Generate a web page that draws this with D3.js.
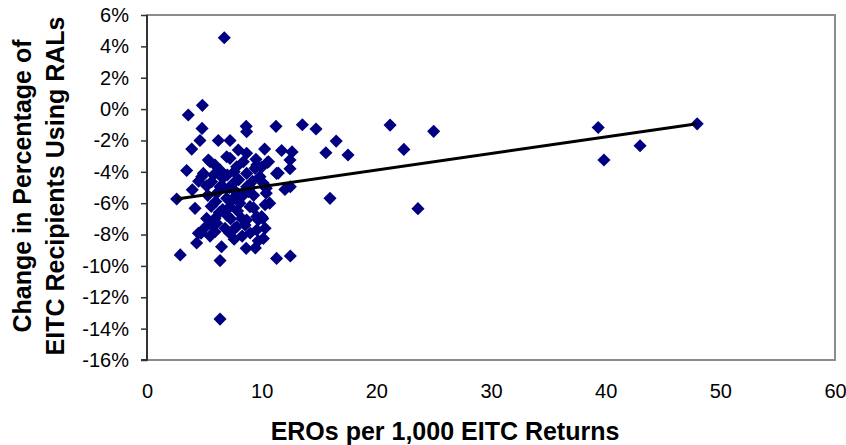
<!DOCTYPE html>
<html>
<head>
<meta charset="utf-8">
<script src="https://cdn.jsdelivr.net/npm/d3@7"></script>
<style>
  html, body { margin: 0; padding: 0; background: #fff; }
  svg { display: block; font-family: "Liberation Sans", Arial, sans-serif; }
</style>
</head>
<body>
<svg id="chart" width="846" height="445"></svg>
<script>
// ---- data (x: EROs per 1,000 EITC returns, y: change in % of EITC recipients using RALs) ----
const xValues = [
  6.74, 3.6, 4.83, 4.8, 8.65, 8.69, 11.25, 13.55, 14.74, 16.5, 15.6, 17.53, 21.2, 25.0, 22.4, 15.96, 23.63, 39.35, 39.85, 43.0, 47.98,
  4.62, 3.9, 6.22, 7.24, 3.46, 5.35, 5.93, 6.95, 3.95, 4.77, 8.69, 7.96, 10.26, 11.74, 12.65, 10.6, 10.5, 12.47, 10.0, 11.45, 12.47, 9.42, 8.4, 9.85, 7.24,
  7.82, 8.69, 9.57, 11.3, 5.5, 4.91, 5.64, 6.37, 12.03, 12.5, 10.4, 10.4, 10.3, 10.1, 10.7, 10.15,
  2.59, 4.19, 5.2, 4.71, 4.33, 2.9, 6.5, 6.37, 5.93, 5.64, 6.95, 6.95, 7.67, 5.93, 6.65, 6.37, 8.65, 9.45, 11.3, 12.5, 10.15, 10.3, 9.7, 10.0,
  8.55, 8.26, 8.26, 8.84, 6.08, 4.48, 7.82, 8.69, 9.57, 9.57, 8.1, 6.08, 7.53, 8.69, 6.37, 7.24, 8.98,
  5.8, 6.6, 7.0, 7.6, 7.2, 7.8, 6.0, 5.3, 7.5, 8.0, 9.2, 9.3, 9.0, 7.9, 6.6, 5.6, 6.3, 7.3, 6.8, 7.2, 8.3, 7.6, 5.0, 5.5, 9.0, 9.7, 5.2, 4.5, 9.5, 9.3
];
const yValues = [
  4.55, -0.38, 0.24, -1.23, -1.1, -1.44, -1.1, -1.0, -1.27, -2.04, -2.78, -2.93, -1.02, -1.42, -2.57, -5.69, -6.35, -1.17, -3.25, -2.34, -0.94,
  -2.0, -2.55, -2.0, -2.0, -3.92, -3.25, -3.57, -3.04, -5.15, -4.31, -2.82, -2.61, -2.55, -2.64, -2.73, -3.36, -3.4, -3.25, -3.7, -4.08, -3.8, -3.78, -3.36, -4.31, -3.14,
  -3.68, -4.1, -3.57, -4.1, -3.36, -4.1, -4.63, -3.89, -5.12, -4.95, -5.37, -5.05, -6.1, -6.97, -6.0, -4.73,
  -5.73, -6.33, -6.97, -7.92, -8.54, -9.3, -8.78, -9.66, -7.82, -7.39, -6.76, -5.69, -7.6, -6.97, -4.95, -13.39, -8.88, -8.85, -9.52, -9.37, -8.25, -7.6, -7.07, -6.86,
  -7.39, -6.97, -5.59, -5.27, -7.28, -7.92, -7.5, -7.07, -6.86, -7.71, -6.0, -5.37, -4.73, -4.95, -4.95, -6.22, -6.22,
  -4.2, -4.4, -4.2, -4.0, -5.0, -5.3, -5.9, -5.5, -5.7, -4.5, -4.6, -5.5, -5.0, -6.5, -6.4, -6.2, -6.6, -7.0, -7.6, -7.9, -8.1, -8.3, -7.6, -8.1, -7.9, -8.4, -4.9, -4.6, -3.2, -6.3
];
// linear trend line (intercept, slope in % per unit x)
const trendIntercept = -6.0;
const trendSlope = 0.1056;
const xTicks = [0, 10, 20, 30, 40, 50, 60];
const yTicks = [6, 4, 2, 0, -2, -4, -6, -8, -10, -12, -14, -16];
const xTitle = "EROs per 1,000 EITC Returns";
const yTitleLines = ["Change in Percentage of", "EITC Recipients Using RALs"];

// ---- layout ----
const svg = d3.select("#chart");
const pLeft = 147, pRight = 835, pTop = 15, pBottom = 360;
const x = d3.scaleLinear().domain([0, 60]).range([pLeft, pRight]);
const y = d3.scaleLinear().domain([-16, 6]).range([pBottom, pTop]);

// plot-area border (gray)
svg.append("rect")
  .attr("x", pLeft).attr("y", pTop)
  .attr("width", pRight - pLeft).attr("height", pBottom - pTop)
  .attr("fill", "none").attr("stroke", "#8c8c8c").attr("stroke-width", 2);

// y axis
const yAxis = d3.axisLeft(y).tickValues(yTicks).tickSize(6).tickPadding(12)
  .tickFormat(d => d + "%");
const gy = svg.append("g").attr("transform", `translate(${pLeft},0)`).call(yAxis);
gy.select(".domain").attr("stroke", "#333").attr("stroke-width", 2).attr("d", `M-6,${pBottom}H0V${pTop}`);
gy.selectAll(".tick line").attr("stroke", "#333").attr("stroke-width", 1.5);
gy.selectAll(".tick text").attr("font-size", 20).attr("fill", "#000")
  .attr("font-family", "Liberation Sans, Arial, sans-serif");

// x axis (labels only)
const xAxis = d3.axisBottom(x).tickValues(xTicks).tickSize(0).tickPadding(24);
const gx = svg.append("g").attr("transform", `translate(0,${pBottom})`).call(xAxis);
gx.select(".domain").remove();
gx.selectAll(".tick text").attr("font-size", 20).attr("fill", "#000")
  .attr("font-family", "Liberation Sans, Arial, sans-serif");

// points
const pts = xValues.map((v, i) => ({ x: v, y: yValues[i] }));
const diamond = d3.symbol().type(d3.symbolSquare).size(86);
svg.append("g").selectAll("path").data(pts).join("path")
  .attr("d", diamond)
  .attr("transform", d => `translate(${x(d.x)},${y(d.y)}) rotate(45)`)
  .attr("fill", "#000080");

// trend line
const xMin = d3.min(xValues), xMax = d3.max(xValues);
const trend = [xMin, xMax].map(v => ({ x: v, y: trendIntercept + trendSlope * v }));
svg.append("path").datum(trend)
  .attr("d", d3.line().x(d => x(d.x)).y(d => y(d.y)))
  .attr("fill", "none").attr("stroke", "#000").attr("stroke-width", 3);

// titles
svg.append("text")
  .attr("x", 445).attr("y", 440)
  .attr("text-anchor", "middle")
  .attr("font-size", 25).attr("font-weight", "bold")
  .text(xTitle);

const yt = svg.append("text")
  .attr("transform", "translate(31,186) rotate(-90)")
  .attr("text-anchor", "middle")
  .attr("font-size", 25).attr("font-weight", "bold");
yt.selectAll("tspan").data(yTitleLines).join("tspan")
  .attr("x", 0).attr("dy", (d, i) => i === 0 ? 0 : 33)
  .text(d => d);
</script>
</body>
</html>
